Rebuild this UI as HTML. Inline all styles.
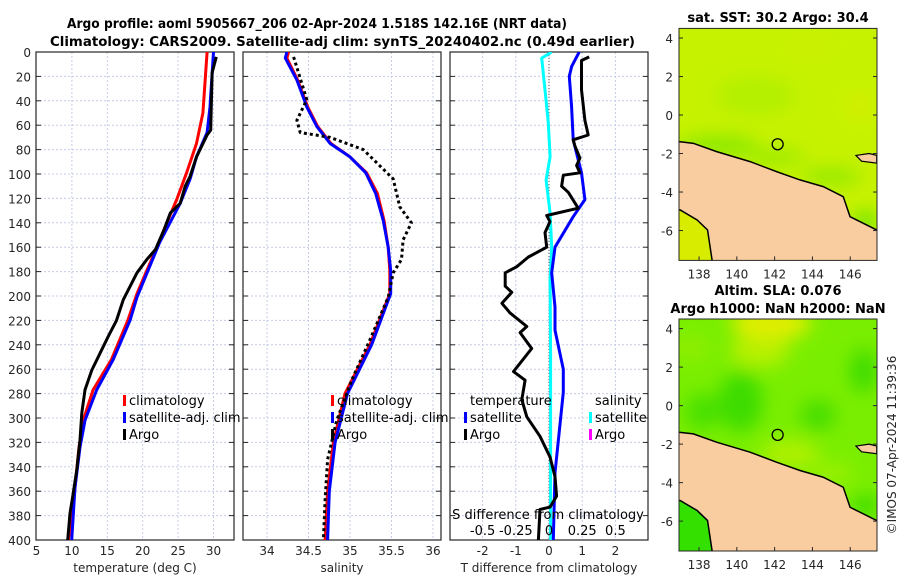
<!DOCTYPE html>
<html><head><meta charset="utf-8">
<style>
html,body{margin:0;padding:0;background:#fff;}
svg{display:block;font-family:"DejaVu Sans","Liberation Sans",sans-serif;}
.tk{font-size:12px;fill:#262626;}
.ttl{font-size:13px;font-weight:bold;fill:#000;}
.lg{font-size:13px;fill:#000;}
</style></head>
<body>
<svg id="fig" width="900" height="580" viewBox="0 0 900 580">
<defs>
<clipPath id="c1"><rect x="36" y="52" width="198" height="488"/></clipPath>
<clipPath id="c2"><rect x="243" y="52" width="198" height="488"/></clipPath>
<clipPath id="c3"><rect x="450" y="52" width="198" height="488"/></clipPath>
<clipPath id="cm1"><rect x="679" y="28" width="198" height="232"/></clipPath>
<clipPath id="cm2"><rect x="679" y="319" width="198" height="232"/></clipPath>
<filter id="blur" x="-50%" y="-50%" width="200%" height="200%"><feGaussianBlur stdDeviation="9"/></filter>
</defs>
<text class="ttl" x="67" y="28" textLength="500" lengthAdjust="spacingAndGlyphs">Argo profile: aoml 5905667_206 02-Apr-2024 1.518S 142.16E (NRT data)</text>
<text class="ttl" x="50" y="46" textLength="585" lengthAdjust="spacingAndGlyphs">Climatology: CARS2009. Satellite-adj clim: synTS_20240402.nc (0.49d earlier)</text>
<g id="p1"></g>
<g id="p2"></g>
<g id="p3"></g>
<g id="m1"></g>
<g id="m2"></g>
<text class="ttl" x="778" y="22" text-anchor="middle">sat. SST: 30.2 Argo: 30.4</text>
<text class="ttl" x="778" y="295" text-anchor="middle">Altim. SLA: 0.076</text>
<text class="ttl" x="778" y="313" text-anchor="middle">Argo h1000: NaN h2000: NaN</text>
<text class="tk" font-size="13" transform="translate(896,445) rotate(-90)" text-anchor="middle">©IMOS 07-Apr-2024 11:39:36</text>
</svg>
<script>
// ---- data ----
const depthTicks = [0,20,40,60,80,100,120,140,160,180,200,220,240,260,280,300,320,340,360,380,400];
const tempTicks = [5,10,15,20,25,30];
const salTicks = [34,34.5,35,35.5,36];
const salTickLabels = ["34","34.5","35","35.5","36"];
const diffTicks = [-2,-1,0,1,2];
const sDiffTicks = [-0.5,-0.25,0,0.25,0.5];
const sDiffLabels = ["-0.5","-0.25","0","0.25","0.5"];

const climTDepth = [0,50,75,99,121,140,160,179,198,220,252,277,302,324,357,400];
const climT = [29.1,28.5,27.6,26.2,24.8,23.4,22.0,20.6,19.2,17.9,15.6,13.0,11.6,11.0,10.44,9.5];
const satTDepth = [0,45,66,86,104,124,156,201,220,252,277,302,324,357,400];
const satT = [30.0,29.5,29.1,27.6,26.7,25.3,22.4,19.2,18.2,15.85,13.5,11.85,11.14,10.44,9.97];
const argoTDepth = [4,17,64,68,86,102,110,124,132,146,162,170,181,187,203,220,233,247,261,277,296,318,343,365,378,400];
const argoT = [30.4,29.8,29.6,29.1,27.6,26.7,26.0,25.3,23.9,23.0,21.8,20.6,19.2,18.67,17.26,16.3,15.14,13.97,12.8,11.85,11.4,11.14,10.68,10.1,9.73,9.4];

const salDepth = [0,5,23,45,61,75,86,99,116,138,160,179,198,240,280,320,360,400];
const climS = [34.26,34.24,34.37,34.49,34.61,34.77,35.0,35.2,35.33,35.41,35.46,35.48,35.48,35.24,34.94,34.8,34.73,34.70];
const satS = [34.24,34.22,34.36,34.48,34.6,34.76,35.0,35.19,35.31,35.4,35.46,35.49,35.49,35.26,34.97,34.82,34.75,34.73];
const argoSDepth = [4,39,56,66,70,80,104,127,140,154,170,181,201,236,269,302,334,367,400];
const argoS = [34.32,34.48,34.36,34.4,34.76,35.16,35.52,35.6,35.74,35.64,35.62,35.52,35.46,35.24,35.02,34.84,34.73,34.70,34.68];

const satSDiffDepth = [0,5,31,58,86,105,132,160,187,250,300,350,400];
const satSDiff = [0.02,-0.055,-0.03,-0.005,0.008,-0.022,0.008,0.02,0.008,0.012,0.012,0.012,0.012];
const satTDiffDepth = [0,12,20,45,72,99,121,135,160,181,209,228,260,279,345,400];
const satTDiff = [0.91,0.68,0.61,0.68,0.73,0.98,1.08,0.73,0.18,0.08,0.18,0.18,0.43,0.43,0.18,0.13];
const argoTDiffDepth = [4,7,31,56,68,72,77,87,93,99,101,110,115,128,134,139,148,160,168,176,181,192,197,206,214,225,230,243,262,269,285,299,315,332,348,364,373,375,400];
const argoTDiff = [1.21,0.98,0.98,1.08,1.18,0.73,0.78,0.93,0.83,0.93,0.43,0.38,0.58,0.88,-0.07,0.03,-0.12,-0.07,-0.62,-0.97,-1.32,-1.32,-1.12,-1.42,-1.17,-0.67,-0.87,-0.52,-1.07,-0.72,-0.82,-0.67,-0.27,0.03,0.18,0.23,0.03,-0.27,-0.32];

const lonTicks = [138,140,142,144,146];
const latTicks = [4,2,0,-2,-4,-6];
const argoLon = 142.16, argoLat = -1.518;
const coastLon = [137.0,137.7,138.93,140.7,142.1,143.34,144.57,145.63,145.99,147.4];
const coastLat = [-1.39,-1.47,-1.9,-2.42,-2.94,-3.37,-3.72,-4.24,-5.28,-5.97];
const southLon = [138.7,138.45,137.9,137.0];
const southLat = [-7.5,-5.97,-5.45,-4.93];

// ---- axes ----
const NS='http://www.w3.org/2000/svg';
const yD = d => 52 + d*1.22;
const xT = t => 36.5 + (t-5)*7.08;
const xS = s => 267 + (s-34)*83;
const xDf = v => 549 + v*33.2;
const xSd = s => 549 + s*4*33.2;
function el(tag, attrs, parent){const e=document.createElementNS(NS,tag);for(const k in attrs)e.setAttribute(k,attrs[k]);parent.appendChild(e);return e;}
function txt(parent, x, y, s, cls, anchor){const t=el('text',{x:x,y:y,'class':cls,'text-anchor':anchor||'middle'},parent);t.textContent=s;return t;}

function panel(g, x0, xTickVals, xfun, labels, clip){
  const gr = el('g',{},g);
  
  
  depthTicks.forEach(d=>{ if(d>0&&d<400) el('line',{x1:x0,x2:x0+198,y1:yD(d),y2:yD(d),stroke:'#c5cbe6','stroke-width':1,'stroke-dasharray':'2 2'},gr);
    el('line',{x1:x0,x2:x0+5,y1:yD(d),y2:yD(d),stroke:'#262626'},gr);
    el('line',{x1:x0+198,x2:x0+193,y1:yD(d),y2:yD(d),stroke:'#262626'},gr);});
  xTickVals.forEach((v,i)=>{const x=xfun(v); if(x>x0+1&&x<x0+197) el('line',{x1:x,x2:x,y1:52,y2:540,stroke:'#c5cbe6','stroke-width':1,'stroke-dasharray':'2 2'},gr);
    const t=txt(g,x,555,labels[i],'tk');
    
    });
  const b=el('rect',{x:x0,y:52,width:198,height:488,fill:'none',stroke:'#262626','stroke-width':1.2},g);
  
  
}
function line(g, xs, ds, xfun, color, dash, clip, name){
  const pts = xs.map((v,i)=>xfun(v).toFixed(1)+','+yD(ds[i]).toFixed(1)).join(' ');
  const a={points:pts,fill:'none',stroke:color,'stroke-width':3,'stroke-linejoin':'round','clip-path':'url(#'+clip+')'};
  if(dash) a['stroke-dasharray']=dash;
  const p=el('polyline',a,g);
  
  
}
function legend(g, x, y, color, label, name){
  el('rect',{x:x,y:y-10,width:3,height:11,fill:color},g);
  const t=txt(g,x+6,y,label,'lg','start');
  
  
}

// Panel 1
const p1=document.getElementById('p1');
panel(p1,36,tempTicks,xT,tempTicks.map(String),'c1');
depthTicks.forEach(d=>{const t=txt(p1,31,yD(d)+5,String(d),'tk','end');
  
  });
txt(p1,135,572,'temperature (deg C)','tk').setAttribute('font-size','13');
line(p1,climT,climTDepth,xT,'#ff0000',null,'c1','climatology-temp-line');
line(p1,satT,satTDepth,xT,'#0000ff',null,'c1','satellite-temp-line');
line(p1,argoT,argoTDepth,xT,'#000000',null,'c1','argo-temp-line');
legend(p1,123,405,'#ff0000','climatology','legend-climatology');
legend(p1,123,422,'#0000ff','satellite-adj. clim','legend-satellite');
legend(p1,123,439,'#000000','Argo','legend-argo');

// Panel 2
const p2=document.getElementById('p2');
panel(p2,243,salTicks,xS,salTickLabels,'c2');
txt(p2,342,572,'salinity','tk').setAttribute('font-size','13');
line(p2,climS,salDepth,xS,'#ff0000',null,'c2','climatology-salinity-line');
line(p2,satS,salDepth,xS,'#0000ff',null,'c2','satellite-salinity-line');
line(p2,argoS,argoSDepth,xS,'#000000','3 3','c2','argo-salinity-line');
legend(p2,331,405,'#ff0000','climatology','legend-climatology-s');
legend(p2,331,422,'#0000ff','satellite-adj. clim','legend-satellite-s');
legend(p2,331,439,'#000000','Argo','legend-argo-s');

// Panel 3
const p3=document.getElementById('p3');
panel(p3,450,diffTicks,xDf,diffTicks.map(String),'c3');
el('line',{x1:xDf(0),x2:xDf(0),y1:52,y2:540,stroke:'#555','stroke-width':1,'stroke-dasharray':'1 2'},p3);
txt(p3,549,572,'T difference from climatology','tk').setAttribute('font-size','13');
line(p3,satSDiff,satSDiffDepth,xSd,'#00ffff',null,'c3','satellite-salinity-diff-line');
line(p3,satTDiff,satTDiffDepth,xDf,'#0000ff',null,'c3','satellite-temp-diff-line');
line(p3,argoTDiff,argoTDiffDepth,xDf,'#000000',null,'c3','argo-temp-diff-line');
const sl=txt(p3,548,519,'S difference from climatology','lg');


sDiffTicks.forEach((v,i)=>{const t=txt(p3,xSd(v),535,sDiffLabels[i],'lg');
  
  });
txt(p3,470,405,'temperature','lg','start');
legend(p3,464,422,'#0000ff','satellite','legend-temp-satellite');
legend(p3,464,439,'#000000','Argo','legend-temp-argo');
txt(p3,595,405,'salinity','lg','start');
legend(p3,589,422,'#00ffff','satellite','legend-sal-satellite');
legend(p3,589,439,'#ff00ff','Argo','legend-sal-argo');

// Maps
function map(g, top, clip, base, blobs, lowerSea){
  const mx = lon => 679 + (lon-136.94)*18.9;
  const my = lat => top + (4.5-lat)*19.25;
  const inner = el('g',{'clip-path':'url(#'+clip+')'},g);
  el('rect',{x:679,y:top,width:198,height:232,fill:base},inner);
  const bg = el('g',{filter:'url(#blur)'},inner);
  blobs.forEach(b=>el('ellipse',{cx:mx(b[0]),cy:my(b[1]),rx:b[2],ry:b[3],fill:b[4]},bg));
  el('rect',{x:679,y:my(-4.9),width:mx(138.8)-679,height:80,fill:lowerSea},inner);
  let pts = coastLon.map((v,i)=>mx(v)+','+my(coastLat[i]));
  pts.push(mx(147.5)+','+my(-5.97), mx(147.5)+','+my(-7.6));
  southLon.forEach((v,i)=>pts.push(mx(v)+','+my(southLat[i]===-7.5?-7.6:southLat[i])));
  pts.push(mx(136.9)+','+my(-4.93), mx(136.9)+','+my(-1.39));
  const land=el('polygon',{points:pts.join(' '),fill:'#f9cd9f',stroke:'#000','stroke-width':1.5},inner);
  
  
  el('path',{d:`M${mx(146.3)},${my(-2.1)} L${mx(147)},${my(-2)} L${mx(147.4)},${my(-2.1)} L${mx(147.4)},${my(-2.5)} L${mx(146.6)},${my(-2.4)} Z`,fill:'#f9cd9f',stroke:'#000','stroke-width':1.2},inner);
  const c=el('circle',{cx:mx(argoLon),cy:my(argoLat),r:5.5,fill:'none',stroke:'#000','stroke-width':1.3},g);
  
  
  el('rect',{x:679,y:top,width:198,height:232,fill:'none',stroke:'#262626','stroke-width':1},g);
  latTicks.forEach(l=>{const t=txt(g,673,my(l)+5,String(l),'tk','end');t.setAttribute('font-size','13');
    
    
    el('line',{x1:679,x2:683,y1:my(l),y2:my(l),stroke:'#262626'},g);el('line',{x1:877,x2:873,y1:my(l),y2:my(l),stroke:'#262626'},g);});
  lonTicks.forEach(l=>{const t=txt(g,mx(l),top+250,String(l),'tk');t.setAttribute('font-size','13');
    
    
    el('line',{x1:mx(l),x2:mx(l),y1:top+232,y2:top+228,stroke:'#262626'},g);});
}
map(document.getElementById('m1'),28.4,'cm1','#c6f200',[
  [139,-1.6,40,10,'#88e800'],[142,-2.2,30,8,'#99ea00'],[145,-3.2,30,8,'#90e800'],[146.8,-5.5,10,8,'#44dd00'],
  [141,1,40,20,'#b4f000'],[144,3.5,30,15,'#c8f000'],[146.5,0.5,12,12,'#d6ee00']],'#d8ec00');
map(document.getElementById('m2'),319,'cm2','#7aee00',[
  [141.8,4.3,40,18,'#e0ee00'],[141.2,2.8,30,15,'#b8f000'],[140.2,0.2,22,30,'#3edc00'],[138.2,-0.3,18,18,'#4ae000'],
  [144.3,-0.5,18,15,'#46dd00'],[146.7,1.8,14,22,'#40dc00'],[142.8,-2.5,30,14,'#b0f000'],[145,-3.5,22,10,'#9cf000'],
  [146.8,-5.2,12,10,'#30d800'],[137.5,3,20,12,'#90ee00']],'#33e000');
</script>
</body></html>
